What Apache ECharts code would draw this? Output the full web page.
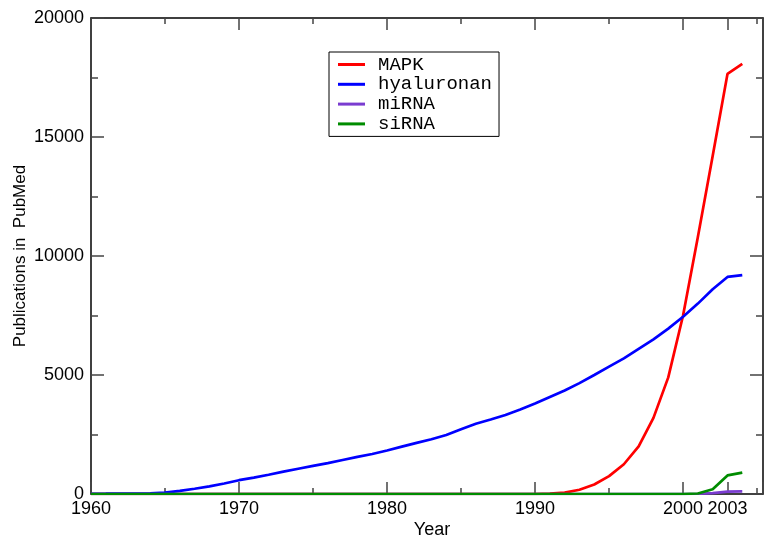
<!DOCTYPE html>
<html>
<head>
<meta charset="utf-8">
<script src="https://cdn.jsdelivr.net/npm/echarts@6/dist/echarts.min.js"></script>
<style>
  html, body { margin: 0; padding: 0; background: #fff; }
  #chart { width: 764px; height: 539px; }
</style>
</head>
<body>
<div id="chart"></div>
<script>
// 数据
var years = [];
for (var y = 1960; y <= 2004; y++) years.push(y);

var mapk = [0,0,0,0,0,0,0,0,0,0,
            0,0,0,0,0,0,0,0,0,0,
            0,0,0,0,0,0,0,0,0,0,
            0,20,60,180,400,750,1250,2000,3200,4900,
            7500,10800,14200,17650,18070];
var hyaluronan = [10,12,15,20,30,60,130,220,320,440,
                  580,690,810,940,1060,1180,1300,1430,1560,1680,
                  1830,1990,2150,2300,2480,2720,2950,3130,3320,3550,
                  3800,4076,4350,4660,5000,5350,5700,6100,6500,6950,
                  7450,8000,8600,9120,9200];
var mirna = [0,0,0,0,0,0,0,0,0,0,
             0,0,0,0,0,0,0,0,0,0,
             0,0,0,0,0,0,0,0,0,0,
             0,0,0,0,0,0,0,0,0,0,
             0,10,40,100,110];
var sirna = [0,0,0,0,0,0,0,0,0,0,
             0,0,0,0,0,0,0,0,0,0,
             0,0,0,0,0,0,0,0,0,0,
             0,0,0,0,0,0,0,0,0,0,
             0,20,200,780,900];

var xLabels = [1960, 1970, 1980, 1990, 2000, 2003];

function pairs(arr) {
    return years.map(function(yr, i) { return [yr, arr[i]]; });
}

// x 轴: 主刻度每10年, 次刻度每5年, 另加2003
function xAxisOf(position, interval, len, showLabel, showLine, showName) {
    return {
        type: 'value',
        position: position,
        min: 1960,
        max: 2005.4,
        interval: interval,
        name: showName ? 'Year' : '',
        nameLocation: 'middle',
        nameGap: 27,
        nameMoveOverlap: false,
        nameTextStyle: { fontFamily: 'Liberation Sans', fontSize: 18, color: '#000', padding: [0, 0, 0, 10] },
        axisLine: { show: showLine, onZero: false, lineStyle: { color: '#000', width: 1.5 } },
        axisTick: { show: true, inside: true, length: len, lineStyle: { color: '#444', width: 1.5 } },
        axisLabel: {
            show: showLabel, margin: 6, hideOverlap: false,
            showMinLabel: true, showMaxLabel: true,
            fontFamily: 'Liberation Sans', fontSize: 18, color: '#000',
            formatter: function(v) {
                if (interval === 43 && v === 1960) return '';
                return xLabels.indexOf(v) >= 0 ? String(v) : '';
            }
        },
        splitLine: { show: false }
    };
}

function yAxisOf(position, showLabel) {
    return {
        type: 'value',
        position: position,
        min: 0,
        max: 20000,
        interval: 5000,
        name: showLabel ? 'Publications in  PubMed' : '',
        nameLocation: 'middle',
        nameGap: 62,
        nameMoveOverlap: false,
        nameTextStyle: { fontFamily: 'Liberation Sans', fontSize: 17, color: '#000' },
        axisLine: { show: true, lineStyle: { color: '#000', width: 1.5 } },
        axisTick: { show: true, inside: true, length: 13, lineStyle: { color: '#444', width: 1.5 } },
        minorTick: { show: true, splitNumber: 2, length: 7, lineStyle: { color: '#444', width: 1.5 } },
        axisLabel: {
            show: showLabel, margin: 7, fontFamily: 'Liberation Sans', fontSize: 18, color: '#000',
            formatter: function(v) { return String(v); }
        },
        splitLine: { show: false }
    };
}

function lineSeries(name, arr, color) {
    return {
        name: name,
        type: 'line',
        xAxisIndex: 0,
        yAxisIndex: 0,
        data: pairs(arr),
        showSymbol: false,
        symbol: 'none',
        color: color,
        lineStyle: { color: color, width: 2.7 }
    };
}

var chart = echarts.init(document.getElementById('chart'));
var option = {
    animation: false,
    backgroundColor: '#fff',
    grid: { left: 91, top: 18, right: 1, bottom: 45, containLabel: false, outerBoundsMode: 'none' },
    legend: {
        orient: 'vertical',
        left: 329,
        top: 52,
        padding: [3, 7, 3, 9],
        borderColor: '#000',
        borderWidth: 1,
        borderRadius: 0,
        itemWidth: 27,
        itemHeight: 3,
        itemGap: 0.8,
        icon: 'rect',
        textStyle: { fontFamily: 'Liberation Mono', fontSize: 19, color: '#000', padding: [0, 0, 0, 8] },
        data: ['MAPK', 'hyaluronan', 'miRNA', 'siRNA']
    },
    xAxis: [
        xAxisOf('bottom', 10, 12, true, true, true),
        xAxisOf('bottom', 5, 6, false, false, false),
        xAxisOf('bottom', 43, 12, true, false, false),
        xAxisOf('top', 10, 12, false, true, false),
        xAxisOf('top', 5, 6, false, false, false),
        xAxisOf('top', 43, 12, false, false, false)
    ],
    yAxis: [
        yAxisOf('left', true),
        yAxisOf('right', false)
    ],
    series: [
        lineSeries('MAPK', mapk, '#ff0000'),
        lineSeries('hyaluronan', hyaluronan, '#0000ff'),
        lineSeries('miRNA', mirna, '#7a3cd0'),
        lineSeries('siRNA', sirna, '#008c00')
    ]
};
chart.setOption(option);
</script>
</body>
</html>
